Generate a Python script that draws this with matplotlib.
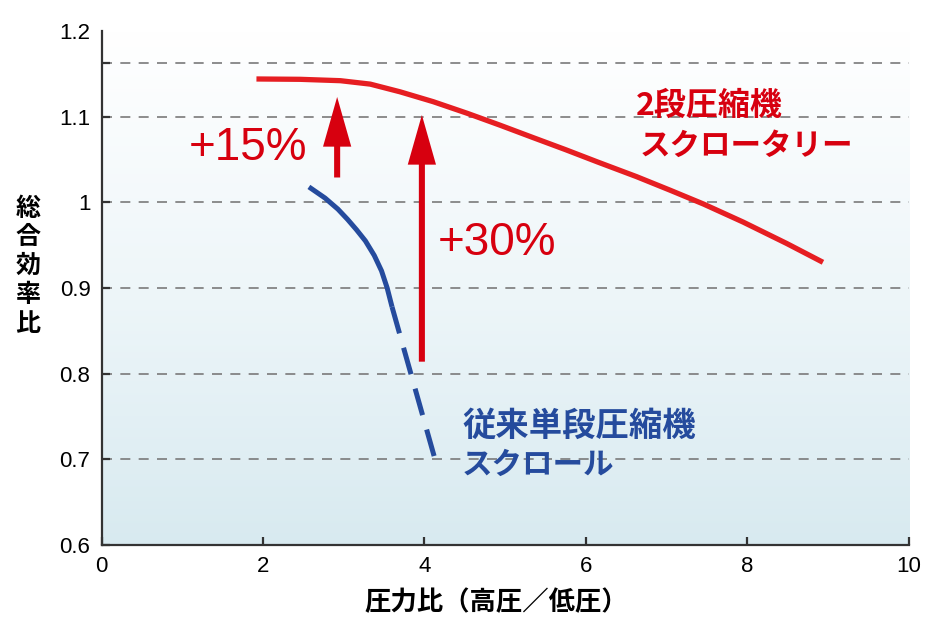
import numpy as np
import matplotlib
matplotlib.use("Agg")
import matplotlib.pyplot as plt
from matplotlib.colors import LinearSegmentedColormap

# ---- data ----
red_x = [1.92, 2.46, 2.96, 3.33, 3.70, 4.11, 4.53, 4.94, 5.35, 5.75, 6.15, 6.63, 7.05, 7.46, 7.95, 8.49, 8.94]
red_y = [1.144, 1.1436, 1.142, 1.138, 1.129, 1.1175, 1.104, 1.090, 1.0755, 1.0615, 1.047, 1.030, 1.014, 0.998, 0.977, 0.952, 0.930]

blue_solid_x = [2.57, 2.77, 2.93, 3.05, 3.16, 3.27, 3.38, 3.47, 3.54, 3.60]
blue_solid_y = [1.018, 1.005, 0.992, 0.980, 0.968, 0.955, 0.938, 0.920, 0.900, 0.878]
blue_dash_x = [3.60, 4.13]
blue_dash_y = [0.878, 0.701]

arrow_x = [2.92, 3.97]
arrow_from = [1.029, 0.814]
arrow_to = [1.123, 1.102]
pct_labels = ["+15%", "+30%"]
pct_pos = [(1.82, 1.063), (4.90, 0.953)]

xticks = [0, 2, 4, 6, 8, 10]
yticks = [0.6, 0.7, 0.8, 0.9, 1.0, 1.1, 1.2]
ytick_labels = ["0.6", "0.7", "0.8", "0.9", "1", "1.1", "1.2"]
grid_y = [0.7, 0.8, 0.9, 1.0, 1.1, 1.163]

red_label = ["2段圧縮機", "スクロータリー"]
blue_label = ["従来単段圧縮機", "スクロール"]
xlabel = "圧力比（高圧／低圧）"
ylabel = "総合効率比"

RED_LINE = "#e61e22"
RED = "#d7000f"
BLUE = "#254b9d"
CJK = ["Noto Sans CJK JP", "DejaVu Sans"]
LAT = ["Liberation Sans", "DejaVu Sans"]

fig = plt.figure(figsize=(9.36, 6.34), dpi=100)
ax = fig.add_axes([101.5/936, 1-545/634, (908.5-101.5)/936, (545-31)/634])

# gradient background (light blue at bottom -> white at top)
cmap = LinearSegmentedColormap.from_list("bg", ["#d8eaf0", "#eef6f9", "#ffffff"], N=256)
grad = np.linspace(0, 1, 256).reshape(-1, 1)
ax.imshow(grad, extent=[0, 10, 0.6, 1.2], origin="lower", aspect="auto", cmap=cmap, zorder=0)
ax.set_xlim(0, 10)
ax.set_ylim(0.6, 1.2)

for gy in grid_y:
    ax.axhline(gy, color="#7a7a7a", lw=1.2, linestyle=(0, (6, 5)), zorder=1)

# curves
ax.plot(red_x, red_y, color=RED_LINE, lw=3.8, solid_capstyle="butt",
        solid_joinstyle="round", zorder=3)
ax.plot(blue_solid_x, blue_solid_y, color=BLUE, lw=3.6, solid_capstyle="butt",
        solid_joinstyle="round", zorder=3)
ax.plot(blue_dash_x, blue_dash_y, color=BLUE, lw=3.6, linestyle=(0, (5.5, 3)),
        dash_capstyle="butt", zorder=3)

# arrows
for x, y0, y1 in zip(arrow_x, arrow_from, arrow_to):
    ax.arrow(x, y0, 0, y1 - y0, width=0.075, head_width=0.35, head_length=0.058,
             length_includes_head=True, color=RED, lw=0, zorder=4)

for lab, (px, py) in zip(pct_labels, pct_pos):
    ax.text(px, py, lab, color=RED, fontsize=33, family=LAT, ha="center", va="center", zorder=5)

ax.text(6.62, 1.113, red_label[0], color=RED, fontsize=23, family=CJK, weight="bold",
        ha="left", va="center", zorder=5)
ax.text(6.67, 1.066, red_label[1], color=RED, fontsize=22, family=CJK, weight="bold",
        ha="left", va="center", zorder=5)
ax.text(4.467, 0.738, blue_label[0], color=BLUE, fontsize=24, family=CJK, weight="bold",
        ha="left", va="center", zorder=5)
ax.text(4.467, 0.693, blue_label[1], color=BLUE, fontsize=22, family=CJK, weight="bold",
        ha="left", va="center", zorder=5)

# axes styling
for s in ["top", "right"]:
    ax.spines[s].set_visible(False)
for s in ["left", "bottom"]:
    ax.spines[s].set_color("#333333")
    ax.spines[s].set_linewidth(1.6)

ax.set_xticks(xticks)
ax.set_xticklabels([str(t) for t in xticks], family=LAT, fontsize=16)
ax.set_yticks(yticks)
ax.set_yticklabels(ytick_labels, family=LAT, fontsize=16)
ax.set_yticks([1.163], minor=True)
ax.tick_params(axis="both", which="both", direction="in", length=6, width=1.6, color="#333333")
ax.tick_params(axis="y", which="major", pad=8)
ax.tick_params(axis="x", which="major", pad=8)
ax.yaxis.get_major_ticks()[-1].tick1line.set_visible(False)

fig.text(496/936, 1-603/634, xlabel, family=CJK, weight="bold", fontsize=19,
         ha="center", va="center")
fig.text(28/936, 1-266/634, "\n".join(ylabel), family=CJK, weight="bold", fontsize=18,
         ha="center", va="center", linespacing=1.25)

fig.savefig("out.png", dpi=100)
